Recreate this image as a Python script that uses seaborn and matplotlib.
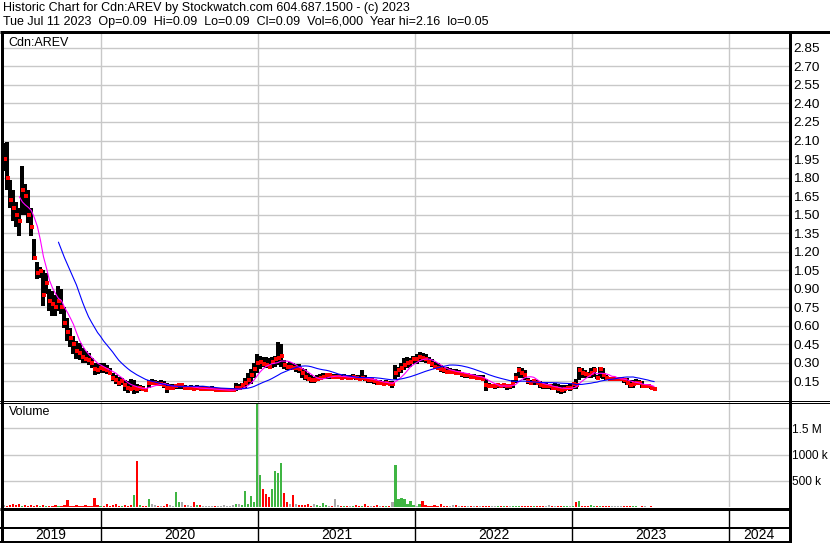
import numpy as np
import pandas as pd
import matplotlib
matplotlib.use("Agg")
import matplotlib.pyplot as plt
import matplotlib.dates as mdates
import seaborn as sns

# ---------------- data (weekly) ----------------
high = [
    2.08, 2.09, 1.78, 1.70, 1.60, 1.55, 1.89, 1.75, 1.70, 1.55,
    1.30, 1.12, 1.08, 1.05, 1.03, 0.90, 0.88, 0.85, 0.92, 0.90,
    0.75, 0.66, 0.58, 0.52, 0.48, 0.46, 0.42, 0.40, 0.38, 0.34,
    0.30, 0.30, 0.30, 0.30, 0.28, 0.26, 0.22, 0.20, 0.19, 0.18,
    0.16, 0.15, 0.17, 0.16, 0.13, 0.12, 0.11, 0.10, 0.16, 0.17,
    0.16, 0.15, 0.16, 0.15, 0.14, 0.13, 0.13, 0.12, 0.13, 0.12,
    0.12, 0.11, 0.12, 0.11, 0.12, 0.11, 0.11, 0.10, 0.10, 0.11,
    0.10, 0.10, 0.09, 0.09, 0.09, 0.09, 0.10, 0.14, 0.13, 0.14,
    0.18, 0.22, 0.25, 0.30, 0.37, 0.36, 0.35, 0.35, 0.34, 0.35,
    0.36, 0.47, 0.45, 0.32, 0.30, 0.31, 0.30, 0.29, 0.29, 0.26,
    0.25, 0.22, 0.20, 0.19, 0.20, 0.21, 0.22, 0.22, 0.22, 0.21,
    0.21, 0.21, 0.20, 0.21, 0.20, 0.20, 0.21, 0.20, 0.20, 0.24,
    0.20, 0.19, 0.18, 0.17, 0.16, 0.16, 0.15, 0.16, 0.15, 0.15,
    0.28, 0.27, 0.30, 0.34, 0.35, 0.34, 0.36, 0.37, 0.39, 0.38,
    0.37, 0.35, 0.33, 0.31, 0.30, 0.28, 0.27, 0.27, 0.26, 0.25,
    0.25, 0.24, 0.23, 0.22, 0.21, 0.21, 0.21, 0.20, 0.20, 0.20,
    0.17, 0.14, 0.13, 0.13, 0.13, 0.13, 0.14, 0.13, 0.13, 0.16,
    0.22, 0.27, 0.26, 0.24, 0.18, 0.16, 0.17, 0.16, 0.15, 0.14,
    0.14, 0.13, 0.13, 0.14, 0.13, 0.12, 0.12, 0.12, 0.13, 0.14,
    0.17, 0.27, 0.26, 0.24, 0.23, 0.26, 0.27, 0.20, 0.27, 0.26,
    0.20, 0.19, 0.19, 0.19, 0.18, 0.19, 0.18, 0.18, 0.16, 0.16,
    0.17, 0.16, 0.15, 0.12, 0.12, 0.11, 0.10,
]
low = [
    1.85, 1.70, 1.55, 1.45, 1.40, 1.33, 1.50, 1.50, 1.43, 1.33,
    1.13, 0.98, 0.99, 0.76, 0.86, 0.72, 0.68, 0.68, 0.72, 0.70,
    0.58, 0.48, 0.43, 0.37, 0.33, 0.32, 0.30, 0.30, 0.28, 0.26,
    0.20, 0.21, 0.22, 0.22, 0.21, 0.20, 0.15, 0.13, 0.11, 0.12,
    0.07, 0.06, 0.08, 0.05, 0.06, 0.07, 0.07, 0.07, 0.10, 0.12,
    0.12, 0.12, 0.12, 0.10, 0.06, 0.09, 0.09, 0.09, 0.09, 0.09,
    0.09, 0.09, 0.09, 0.08, 0.09, 0.08, 0.08, 0.08, 0.08, 0.07,
    0.07, 0.07, 0.07, 0.07, 0.07, 0.07, 0.07, 0.07, 0.08, 0.09,
    0.10, 0.12, 0.13, 0.18, 0.22, 0.25, 0.27, 0.26, 0.26, 0.26,
    0.27, 0.28, 0.27, 0.25, 0.24, 0.24, 0.24, 0.23, 0.22, 0.18,
    0.16, 0.15, 0.14, 0.14, 0.15, 0.16, 0.17, 0.17, 0.17, 0.17,
    0.17, 0.17, 0.17, 0.17, 0.17, 0.16, 0.17, 0.16, 0.16, 0.16,
    0.15, 0.14, 0.14, 0.13, 0.12, 0.12, 0.12, 0.12, 0.12, 0.10,
    0.17, 0.19, 0.22, 0.24, 0.26, 0.27, 0.29, 0.29, 0.31, 0.31,
    0.30, 0.29, 0.27, 0.25, 0.24, 0.23, 0.22, 0.21, 0.21, 0.21,
    0.21, 0.20, 0.19, 0.18, 0.18, 0.17, 0.17, 0.17, 0.16, 0.15,
    0.07, 0.10, 0.10, 0.09, 0.10, 0.10, 0.10, 0.08, 0.09, 0.10,
    0.14, 0.18, 0.18, 0.16, 0.13, 0.12, 0.12, 0.12, 0.10, 0.09,
    0.09, 0.09, 0.08, 0.08, 0.06, 0.05, 0.06, 0.08, 0.07, 0.09,
    0.09, 0.16, 0.18, 0.18, 0.18, 0.18, 0.19, 0.17, 0.18, 0.17,
    0.16, 0.16, 0.16, 0.16, 0.16, 0.15, 0.14, 0.12, 0.10, 0.10,
    0.12, 0.13, 0.10, 0.10, 0.10, 0.09, 0.09,
]
close = [
    1.95, 1.80, 1.62, 1.55, 1.50, 1.45, 1.70, 1.65, 1.50, 1.40,
    1.15, 1.03, 1.04, 0.85, 0.95, 0.80, 0.78, 0.75, 0.80, 0.75,
    0.62, 0.55, 0.50, 0.45, 0.40, 0.38, 0.35, 0.33, 0.32, 0.30,
    0.25, 0.24, 0.26, 0.25, 0.24, 0.22, 0.18, 0.16, 0.14, 0.15,
    0.12, 0.10, 0.09, 0.10, 0.09, 0.10, 0.09, 0.08, 0.14, 0.14,
    0.14, 0.13, 0.13, 0.12, 0.10, 0.10, 0.10, 0.11, 0.12, 0.12,
    0.10, 0.10, 0.10, 0.09, 0.10, 0.09, 0.09, 0.09, 0.09, 0.09,
    0.08, 0.08, 0.08, 0.08, 0.08, 0.08, 0.08, 0.10, 0.10, 0.12,
    0.14, 0.16, 0.20, 0.25, 0.30, 0.31, 0.29, 0.28, 0.27, 0.31,
    0.33, 0.34, 0.36, 0.28, 0.27, 0.27, 0.26, 0.26, 0.25, 0.22,
    0.19, 0.17, 0.16, 0.16, 0.17, 0.18, 0.19, 0.20, 0.20, 0.19,
    0.19, 0.19, 0.18, 0.19, 0.18, 0.18, 0.19, 0.18, 0.17, 0.18,
    0.17, 0.16, 0.16, 0.15, 0.14, 0.14, 0.13, 0.14, 0.13, 0.13,
    0.22, 0.24, 0.26, 0.28, 0.30, 0.31, 0.33, 0.33, 0.35, 0.34,
    0.33, 0.31, 0.29, 0.27, 0.26, 0.25, 0.24, 0.23, 0.23, 0.23,
    0.22, 0.22, 0.21, 0.20, 0.20, 0.19, 0.19, 0.18, 0.18, 0.17,
    0.12, 0.11, 0.11, 0.11, 0.12, 0.11, 0.12, 0.11, 0.11, 0.13,
    0.18, 0.24, 0.22, 0.20, 0.15, 0.14, 0.15, 0.14, 0.12, 0.11,
    0.11, 0.11, 0.10, 0.10, 0.09, 0.08, 0.09, 0.10, 0.10, 0.13,
    0.12, 0.24, 0.22, 0.21, 0.20, 0.22, 0.24, 0.18, 0.25, 0.20,
    0.18, 0.17, 0.17, 0.17, 0.17, 0.17, 0.16, 0.14, 0.12, 0.13,
    0.14, 0.14, 0.11, 0.11, 0.11, 0.10, 0.09,
]
volume_k = [
    30, 25, 35, 51, 30, 51, 25, 30, 20, 30,
    25, 30, 20, 35, 25, 20, 25, 30, 20, 25,
    30, 135, 25, 20, 30, 25, 20, 30, 25, 20,
    180, 30, 25, 20, 50, 25, 30, 50, 25, 20,
    30, 25, 40, 230, 885, 30, 20, 25, 150, 51,
    30, 25, 20, 25, 60, 30, 25, 280, 96, 96,
    30, 40, 25, 96, 30, 40, 20, 25, 20, 25,
    20, 25, 20, 45, 20, 25, 30, 51, 60, 40,
    310, 60, 212, 96, 1962, 615, 340, 255, 200, 340,
    692, 640, 840, 265, 96, 60, 225, 51, 40, 30,
    30, 51, 25, 51, 30, 25, 80, 30, 25, 20,
    147, 30, 25, 20, 25, 20, 25, 30, 20, 25,
    51, 25, 20, 25, 30, 20, 25, 20, 25, 96,
    808, 147, 165, 147, 51, 115, 30, 25, 51, 115,
    30, 25, 20, 30, 25, 51, 25, 20, 25, 30,
    40, 19, 20, 25, 20, 25, 20, 25, 20, 25,
    25, 20, 20, 25, 20, 15, 20, 25, 20, 25,
    20, 15, 20, 25, 19, 20, 25, 20, 15, 20,
    20, 30, 15, 19, 19, 15, 20, 15, 20, 20,
    96, 115, 20, 19, 25, 30, 20, 15, 20, 19,
    15, 10, 15, 10, 15, 10, 10, 15, 10, 15,
    10, 8, 10, 19, 8, 10, 8,
]
last_date = "2023-07-11"
years = [2019, 2020, 2021, 2022, 2023, 2024]
price_ticks = [round(0.15 * k, 2) for k in range(1, 20)]
vol_ticks = [500_000, 1_000_000, 1_500_000]
vol_tick_labels = ["500 k", "1000 k", "1.5 M"]
header1 = "Historic Chart for Cdn:AREV by Stockwatch.com 604.687.1500 - (c) 2023"
header2 = ("Tue Jul 11 2023  Op=0.09  Hi=0.09  Lo=0.09  Cl=0.09  Vol=6,000  "
           "Year hi=2.16  lo=0.05")

# ---------------- frame ----------------
n = len(close)
df = pd.DataFrame({
    "date": pd.date_range(end=last_date, periods=n, freq="7D"),
    "high": high, "low": low, "close": close,
    "volume": np.array(volume_k) * 1000.0,
})
df["ma_short"] = df["close"].rolling(6).mean()
df["ma_long"] = df["close"].rolling(19).mean()
chg = df["close"].diff().round(4)
df["vcolor"] = np.where(chg > 0, "#3fb543", np.where(chg < 0, "#ff0000", "#a8a8a8"))

sns.set_theme(style="white")
plt.rcParams["font.family"] = ["Liberation Sans", "DejaVu Sans"]

W, H = 830, 543
fig = plt.figure(figsize=(W / 100, H / 100), dpi=100)
fig.patch.set_facecolor("white")


def px_axes(x0, y0, x1, y1, **kw):
    return fig.add_axes([x0 / W, 1 - y1 / H, (x1 - x0) / W, (y1 - y0) / H], **kw)


ref = mdates.date2num(pd.Timestamp("2020-01-01"))
dpp = (mdates.date2num(pd.Timestamp("2024-01-01")) - ref) / 628.0  # days per pixel
xlim = (mdates.num2date(ref - 100 * dpp), mdates.num2date(ref + 688 * dpp))
year_starts = [pd.Timestamp(f"{y}-01-01") for y in years[1:]]
grid_c = "#c8c8c8"
fs = 9
tfs = 9.7

# ---------------- price panel ----------------
ax_p = px_axes(1, 33, 789, 400)
ax_p.set_xlim(xlim)
ax_p.set_ylim(0, 2.97)
ax_p.set_yticks(price_ticks)
ax_p.set_yticklabels([f"{t:.2f}" for t in price_ticks], fontsize=tfs, color="black")
ax_p.yaxis.tick_right()
ax_p.tick_params(axis="y", length=0, pad=3.2)
ax_p.set_xticks(year_starts)
ax_p.tick_params(axis="x", length=0, labelbottom=False)
ax_p.grid(True, color=grid_c, lw=1.0)
for s in ax_p.spines.values():
    s.set_visible(False)

ax_p.vlines(df["date"], df["low"], df["high"], color="black", lw=1.5,
            antialiased=False, zorder=3)
sns.scatterplot(data=df, x=df["date"] + pd.Timedelta(days=1.5), y="close", ax=ax_p,
                marker="s", s=6, color="#ff0000", linewidth=0, zorder=4, legend=False)
sns.lineplot(data=df, x="date", y="ma_short", ax=ax_p, color="#ff00ff", lw=0.8,
             zorder=5, legend=False)
sns.lineplot(data=df, x="date", y="ma_long", ax=ax_p, color="#0000ff", lw=0.8,
             zorder=5, legend=False)
ax_p.set_xlabel("")
ax_p.set_ylabel("")
ax_p.text(0.009, 0.988, "Cdn:AREV", transform=ax_p.transAxes, fontsize=fs,
          va="top", ha="left", color="black", zorder=6)

# ---------------- volume panel ----------------
ax_v = px_axes(1, 402, 789, 507)
ax_v.set_xlim(xlim)
ax_v.set_ylim(0, 2_000_000)
ax_v.bar(df["date"], df["volume"], width=5.0, color=df["vcolor"].tolist(),
         linewidth=0, antialiased=False, zorder=3)
ax_v.set_yticks(vol_ticks)
ax_v.set_yticklabels(vol_tick_labels, fontsize=8.6, color="black")
ax_v.yaxis.tick_right()
ax_v.tick_params(axis="y", length=0, pad=2.4)
ax_v.set_xticks(year_starts)
ax_v.tick_params(axis="x", length=0, labelbottom=False)
ax_v.grid(True, color=grid_c, lw=1.0)
for s in ax_v.spines.values():
    s.set_visible(False)
ax_v.text(0.010, 0.965, "Volume", transform=ax_v.transAxes, fontsize=fs,
          va="top", ha="left", color="black")

# ---------------- year strip ----------------
ax_y = px_axes(1, 509, 789, 541)
ax_y.set_xlim(xlim)
ax_y.set_ylim(0, 1)
ax_y.set_xticks([])
ax_y.set_yticks([])
for s in ax_y.spines.values():
    s.set_visible(False)
for d in year_starts:
    ax_y.axvline(d, color="black", lw=1.0)
lo_n, hi_n = mdates.date2num(xlim[0]), mdates.date2num(xlim[1])
for y in years:
    a = max(mdates.date2num(pd.Timestamp(f"{y}-01-01")), lo_n)
    b = min(mdates.date2num(pd.Timestamp(f"{y + 1}-01-01")), hi_n)
    ax_y.text((a + b) / 2, 0.18, str(y), ha="center", va="center", fontsize=10,
              color="black")

# ---------------- frame lines / header (pixel overlay) ----------------
ov = fig.add_axes([0, 0, 1, 1], zorder=10)
ov.set_xlim(0, W)
ov.set_ylim(H, 0)
ov.axis("off")
ov.patch.set_alpha(0)
k = 0.72  # points per pixel
ov.plot([0, W], [32, 32], color="black", lw=3 * k, solid_capstyle="butt")
ov.plot([0, W], [400.5, 400.5], color="black", lw=1 * k)
ov.plot([0, W], [402.5, 402.5], color="black", lw=1 * k)
ov.plot([0, 791], [508.5, 508.5], color="black", lw=3 * k, solid_capstyle="butt")
ov.plot([0, 791], [527.5, 527.5], color="black", lw=2 * k, solid_capstyle="butt")
ov.plot([0, 791], [541.5, 541.5], color="black", lw=2 * k, solid_capstyle="butt")
ov.plot([1.5, 1.5], [31, 543], color="black", lw=3 * k, solid_capstyle="butt")
ov.plot([790, 790], [31, 543], color="black", lw=3 * k, solid_capstyle="butt")
ov.text(3, 8, header1, fontsize=fs, va="center", ha="left", color="black")
ov.text(3, 22, header2, fontsize=fs, va="center", ha="left", color="black")

fig.savefig("out.png", dpi=100, facecolor="white")
